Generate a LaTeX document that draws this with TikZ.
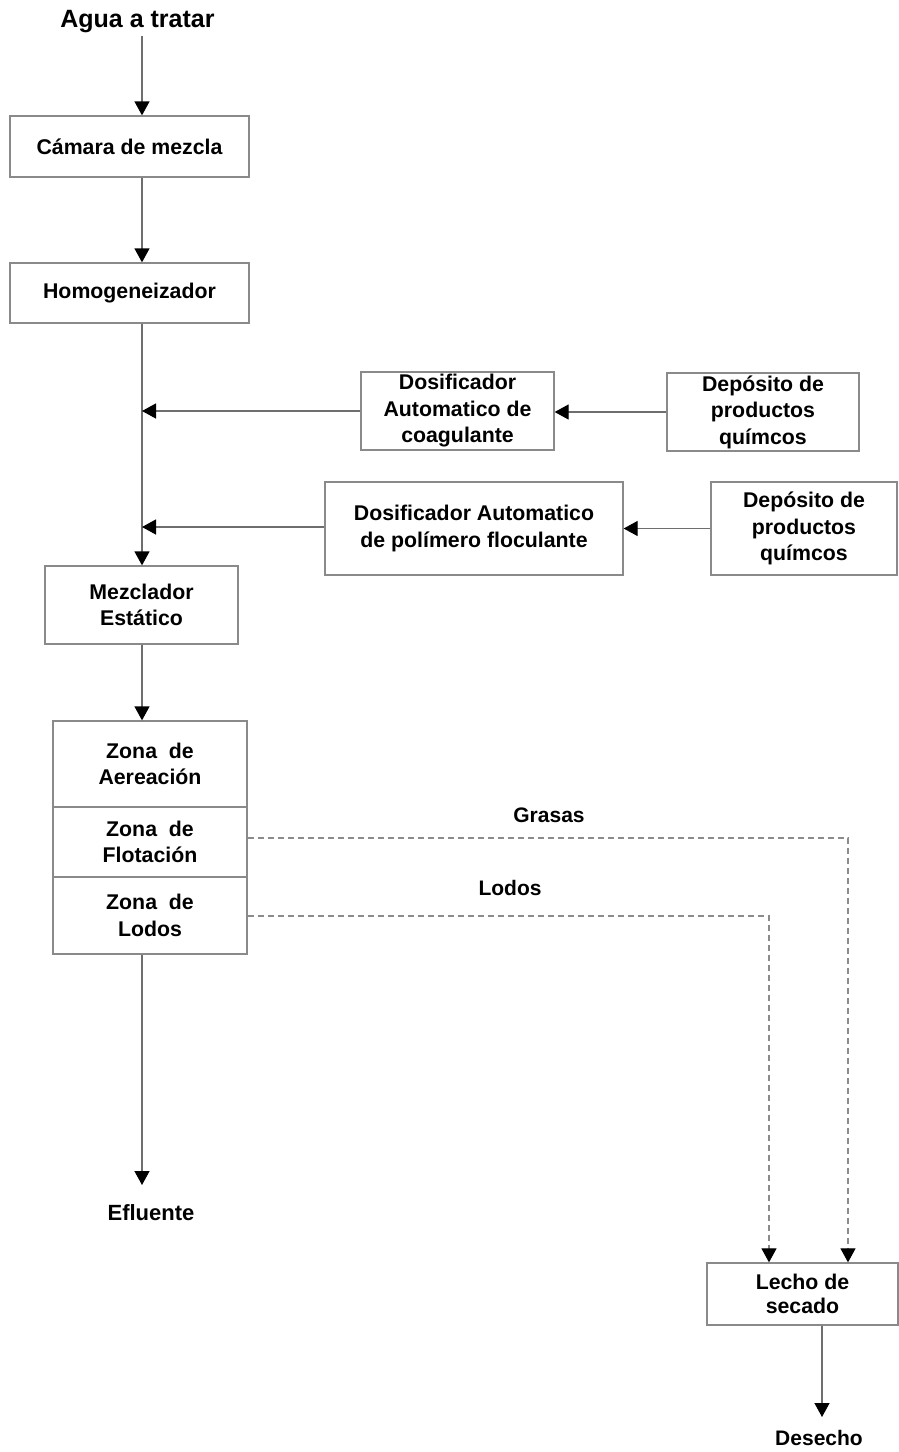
\documentclass[tikz,border=0pt]{standalone}
\usepackage{fontspec}
\setmainfont{Liberation Sans}
\usetikzlibrary{arrows.meta}
\definecolor{boxgray}{HTML}{8A8A8A}
\definecolor{linegray}{HTML}{6E6E6E}
\begin{document}
\begin{tikzpicture}[x=1pt,y=-1pt,
  box/.style={draw=boxgray, line width=1.3pt, fill=white, align=center,
    inner sep=0pt, font=\bfseries\fontsize{21.3}{26.5}\selectfont},
  lbl/.style={inner sep=0pt, align=center, font=\bfseries\fontsize{21}{26}\selectfont},
  flow/.style={draw=linegray, line width=1.3pt,
    -{Triangle[width=15pt,length=14pt,color=black]}},
  waste/.style={draw=linegray!80, line width=1.2pt, dash pattern=on 6pt off 4pt,
    -{Triangle[width=15pt,length=14pt,color=black]}}
]
\useasboundingbox (0,0) rectangle (899,1452);

% main treatment line
\node[lbl, font=\bfseries\fontsize{25}{29}\selectfont] (agua) at (137.5,21.5) {Agua a tratar};
\node[box, minimum width=239pt, minimum height=61pt] (cam) at (129.5,146.5) {Cámara de mezcla};
\node[box, minimum width=239pt, minimum height=60pt] (hom) at (129.5,293) {Homogeneizador};
\node[box, minimum width=193pt, minimum height=78pt] (mez) at (141.5,605) {Mezclador\\Estático};

% chemical dosing
\node[box, minimum width=193pt, minimum height=78pt] (coag) at (457.5,411) {Dosificador\\Automatico de\\coagulante};
\node[box, minimum width=192pt, minimum height=78pt] (dep1) at (763,412) {Depósito de\\productos\\químcos};
\node[box, minimum width=298pt, minimum height=93pt] (floc) at (474,528.5) {Dosificador Automatico\\de polímero floculante};
\node[box, minimum width=186pt, minimum height=93pt] (dep2) at (804,528.5) {Depósito de\\productos\\químcos};

% flotation unit
\node[box, minimum width=194pt, minimum height=86pt] (zA) at (150,764) {Zona\ \ de\\Aereación};
\node[box, minimum width=194pt, minimum height=70pt] (zF) at (150,842) {Zona\ \ de\\Flotación};
\node[box, minimum width=194pt, minimum height=77pt] (zL) at (150,915.5) {Zona\ \ de\\Lodos};

% sludge drying
\node[box, minimum width=191pt, minimum height=62pt, font=\bfseries\fontsize{21.3}{24}\selectfont] (lecho) at (802.5,1294) {Lecho de\\secado};

\node[lbl, font=\bfseries\fontsize{22}{26}\selectfont] (efl) at (151,1213) {Efluente};
\node[lbl] (des) at (819,1438) {Desecho};
\node[lbl] (gras) at (549,815) {Grasas};
\node[lbl] (lod) at (510,888) {Lodos};

% junctions on the main line and free ends
\coordinate (j1) at (142,411);
\coordinate (j2) at (142,527);
\coordinate (aguaEnd) at (142,36);
\coordinate (eflEnd) at (142,1185);
\coordinate (desEnd) at (822,1417);

\draw[flow] (aguaEnd) -- (cam.north -| aguaEnd);
\draw[flow] (cam.south -| j1) -- (hom.north -| j1);
\draw[flow] (hom.south -| j1) -- (mez.north -| j1);
\draw[flow] (mez.south -| j1) -- (zA.north -| j1);
\draw[flow] (zL.south -| j1) -- (eflEnd);

\draw[flow] (coag.west) -- (j1);
\draw[flow] (dep1.west) -- (dep1.west -| coag.east);
\draw[flow] (floc.west |- j2) -- (j2);
\draw[flow] (dep2.west) -- (dep2.west -| floc.east);

\draw[waste] ([yshift=4pt]zF.east) -| (lecho.north -| 848,0);
\draw[waste] ([yshift=-0.5pt]zL.east) -| (lecho.north -| 769,0);
\draw[flow] (lecho.south -| desEnd) -- (desEnd);
\end{tikzpicture}
\end{document}
